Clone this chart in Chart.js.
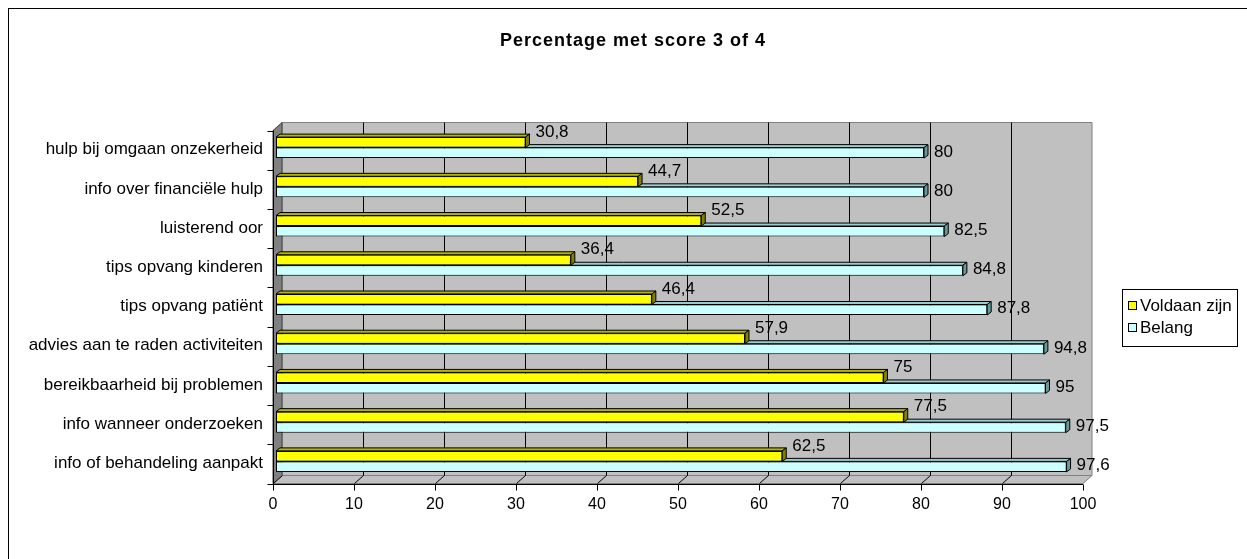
<!DOCTYPE html>
<html>
<head>
<meta charset="utf-8">
<script src="https://cdn.jsdelivr.net/npm/chart.js@4.4.1/dist/chart.umd.min.js"></script>
<style>
  html, body { margin: 0; padding: 0; background: #fff; }
  #wrap { width: 1247px; height: 559px; }
</style>
</head>
<body>
<div id="wrap"><canvas id="scoreChart" width="1247" height="559"></canvas></div>
<script>
const categories = [
    'hulp bij omgaan onzekerheid',
    'info over financiële hulp',
    'luisterend oor',
    'tips opvang kinderen',
    'tips opvang patiënt',
    'advies aan te raden activiteiten',
    'bereikbaarheid bij problemen',
    'info wanneer onderzoeken',
    'info of behandeling aanpakt'
]
const voldaan = [30.8, 44.7, 52.5, 36.4, 46.4, 57.9, 75, 77.5, 62.5]
const belang = [80, 80, 82.5, 84.8, 87.8, 94.8, 95, 97.5, 97.6]
const seriesNames = ['Voldaan zijn', 'Belang']
const titleText = 'Percentage met score 3 of 4'

const FONT = "'Liberation Sans', Arial, sans-serif"

// 3d look: where the front edge and the back wall sit relative to the bars
const FRONT = { dx: -3, dy: 2.5 }
const BACK = { dx: 6, dy: -5.5 }
const BAR_D = { dx: 4, dy: 3 }

const faceColors = [
    { front: '#ffff00', top: '#b3b300', side: '#808000' },
    { front: '#ccffff', top: '#99cccc', side: '#669999' }
]

function poly(ctx, pts, fill, stroke) {
    ctx.beginPath()
    ctx.moveTo(pts[0][0], pts[0][1])
    for (let i = 1; i < pts.length; i++) ctx.lineTo(pts[i][0], pts[i][1])
    ctx.closePath()
    if (fill) { ctx.fillStyle = fill; ctx.fill() }
    if (stroke) { ctx.strokeStyle = stroke; ctx.lineWidth = 1; ctx.stroke() }
}

const excel3d = {
    id: 'excel3d',
    beforeDraw(chart) {
        const ctx = chart.ctx
        const { top, bottom } = chart.chartArea
        const xs = chart.scales.x
        const x0 = xs.getPixelForValue(0)
        const x1 = xs.getPixelForValue(100)

        ctx.save()
        ctx.fillStyle = '#fff'
        ctx.fillRect(0, 0, chart.width, chart.height)
        ctx.strokeStyle = '#000'
        ctx.lineWidth = 1
        ctx.strokeRect(8.5, 8.5, chart.width + 10, chart.height + 10)

        // title
        ctx.fillStyle = '#000'
        ctx.font = 'bold 18px ' + FONT
        ctx.letterSpacing = '1px'
        ctx.textAlign = 'center'
        ctx.textBaseline = 'middle'
        ctx.fillText(titleText, 633, 41)
        ctx.letterSpacing = '0px'

        // back wall
        poly(ctx, [
            [x0 + BACK.dx, top + BACK.dy], [x1 + BACK.dx, top + BACK.dy],
            [x1 + BACK.dx, bottom + BACK.dy], [x0 + BACK.dx, bottom + BACK.dy]
        ], '#c0c0c0', '#808080')
        // side wall
        poly(ctx, [
            [x0 + FRONT.dx, top + FRONT.dy], [x0 + BACK.dx, top + BACK.dy],
            [x0 + BACK.dx, bottom + BACK.dy], [x0 + FRONT.dx, bottom + FRONT.dy]
        ], '#808080', '#404040')
        // floor
        poly(ctx, [
            [x0 + FRONT.dx, bottom + FRONT.dy], [x0 + BACK.dx, bottom + BACK.dy],
            [x1 + BACK.dx, bottom + BACK.dy], [x1 + FRONT.dx, bottom + FRONT.dy]
        ], '#c0c0c0', '#808080')

        // gridlines on the wall and across the floor
        ctx.strokeStyle = '#000'
        ctx.lineWidth = 1
        xs.ticks.forEach(t => {
            const px = Math.round(xs.getPixelForValue(t.value))
            ctx.beginPath()
            if (t.value > 0 && t.value < 100) {
                ctx.moveTo(px + BACK.dx + 0.5, top + BACK.dy)
                ctx.lineTo(px + BACK.dx + 0.5, bottom + BACK.dy)
            }
            if (t.value < 100) {
                ctx.moveTo(px + FRONT.dx + 0.5, bottom + FRONT.dy)
                ctx.lineTo(px + BACK.dx + 0.5, bottom + BACK.dy)
            }
            ctx.stroke()
        })

        // front axis lines and tick marks
        const fl = x0 + FRONT.dx + 0.5
        const fb = Math.round(bottom + FRONT.dy) + 0.5
        ctx.beginPath()
        ctx.moveTo(fl, top + FRONT.dy)
        ctx.lineTo(fl, fb)
        ctx.lineTo(x1 + FRONT.dx, fb)
        xs.ticks.forEach(t => {
            const px = Math.round(xs.getPixelForValue(t.value) + FRONT.dx) + 0.5
            ctx.moveTo(px, fb)
            ctx.lineTo(px, fb + 6)
        })
        const n = categories.length
        for (let i = 0; i <= n; i++) {
            const py = Math.round(top + FRONT.dy + i * (bottom - top) / n) + 0.5
            ctx.moveTo(fl, py)
            ctx.lineTo(fl - 6, py)
        }
        ctx.strokeStyle = '#000'
        ctx.stroke()

        // legend
        ctx.strokeRect(1122.5, 289.5, 115, 57)
        ctx.font = '17px ' + FONT
        ctx.textAlign = 'left'
        chart.data.datasets.forEach((ds, i) => {
            const cy = 306 + i * 22
            ctx.fillStyle = ds.backgroundColor
            ctx.fillRect(1128.5, cy - 4.5, 8, 8)
            ctx.strokeRect(1128.5, cy - 4.5, 8, 8)
            ctx.fillStyle = '#000'
            ctx.fillText(ds.label, 1140, cy)
        })
        ctx.restore()
    },
    beforeDatasetsDraw(chart) {
        const ctx = chart.ctx
        ctx.save()
        // back series first so the upper bar covers its top face
        for (let d = chart.data.datasets.length - 1; d >= 0; d--) {
            const c = faceColors[d]
            chart.getDatasetMeta(d).data.forEach(el => {
                const yt = el.y - el.height / 2
                const yb = el.y + el.height / 2
                const xa = el.base
                const xb = el.x
                poly(ctx, [
                    [xa, yt], [xa + BAR_D.dx, yt - BAR_D.dy],
                    [xb + BAR_D.dx, yt - BAR_D.dy], [xb, yt]
                ], c.top, '#000')
                poly(ctx, [
                    [xb, yt], [xb + BAR_D.dx, yt - BAR_D.dy],
                    [xb + BAR_D.dx, yb - BAR_D.dy], [xb, yb]
                ], c.side, '#000')
            })
        }
        ctx.restore()
    },
    afterDatasetsDraw(chart) {
        const ctx = chart.ctx
        ctx.save()
        ctx.font = '17px ' + FONT
        ctx.fillStyle = '#000'
        ctx.textAlign = 'left'
        ctx.textBaseline = 'middle'
        chart.data.datasets.forEach((ds, d) => {
            chart.getDatasetMeta(d).data.forEach((el, i) => {
                const txt = String(ds.data[i]).replace('.', ',')
                const y = d === 0 ? el.y - el.height / 2 - 5 : el.y - 1
                ctx.fillText(txt, el.x + 10, y)
            })
        })
        ctx.restore()
    }
}

new Chart(document.getElementById('scoreChart'), {
    type: 'bar',
    data: {
        labels: categories,
        datasets: [
            {
                label: seriesNames[0],
                data: voldaan,
                backgroundColor: faceColors[0].front,
                borderColor: '#000',
                borderWidth: 1,
                borderSkipped: false,
                barPercentage: 1,
                categoryPercentage: 0.536
            },
            {
                label: seriesNames[1],
                data: belang,
                backgroundColor: faceColors[1].front,
                borderColor: '#000',
                borderWidth: 1,
                borderSkipped: false,
                barPercentage: 1,
                categoryPercentage: 0.536
            }
        ]
    },
    options: {
        indexAxis: 'y',
        responsive: false,
        animation: false,
        layout: {
            padding: { top: 128, right: 161, left: 0, bottom: 0 }
        },
        scales: {
            x: {
                min: 0,
                max: 100,
                ticks: {
                    stepSize: 10,
                    color: '#000',
                    padding: 6,
                    labelOffset: -3,
                    font: { family: FONT, size: 16 }
                },
                grid: { display: false },
                border: { display: false },
                afterFit: s => { s.height = 78 }
            },
            y: {
                ticks: {
                    color: '#000',
                    padding: 5,
                    labelOffset: 2,
                    font: { family: FONT, size: 17 }
                },
                grid: { display: false },
                border: { display: false },
                afterFit: s => { s.width = 276 }
            }
        },
        plugins: {
            legend: { display: false },
            title: { display: false },
            tooltip: { enabled: false }
        }
    },
    plugins: [excel3d]
})
</script>
</body>
</html>
